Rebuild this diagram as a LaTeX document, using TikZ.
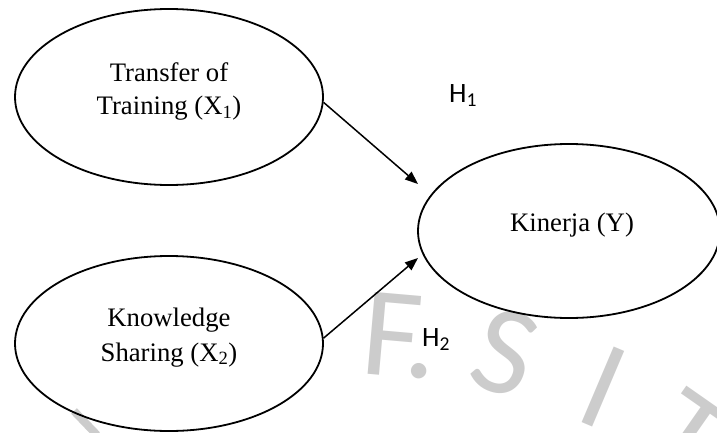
\documentclass[tikz,border=0pt]{standalone}
\usepackage{fontspec}
\setmainfont{Liberation Serif}
\newfontfamily\hypfont{Carlito}
\newfontfamily\markfont{Carlito}
\usetikzlibrary{shapes.geometric,arrows.meta}
\begin{document}
\begin{tikzpicture}[x=1pt,y=1pt,
  oval/.style={ellipse,draw,line width=1.8pt,inner sep=0pt},
  lbl/.style={font=\fontsize{26.7}{34}\selectfont,anchor=base,inner sep=0pt},
  hyp/.style={font=\hypfont\fontsize{28}{30}\selectfont,anchor=base west,inner sep=0pt},
  link/.style={line width=1.5pt,-{Triangle[length=13pt,width=10pt]}},
  wm/.style={font=\markfont\fontsize{128}{130}\selectfont,text=black!20,inner sep=0pt}]
\useasboundingbox (0,0) rectangle (717,432);

% faint watermark letters along an arc
\node[wm,rotate=-5]  (wmF)   at (392,97) {F};
\node[wm,rotate=-5]  (wmDot) at (419,61) {.};
\node[wm,rotate=-18] (wmS)   at (505,79) {S};
\node[wm,rotate=-23] (wmI)   at (603,45) {I};
\node[wm,rotate=-35] (wmT)   at (688,-5) {T};
\draw[black!20,line width=8pt] (74,21) -- (97,-3);

% constructs
\node[oval,minimum width=308,minimum height=176] (tr) at (169,335) {};
\node[oval,minimum width=308,minimum height=175] (ks) at (169,88.5) {};
\node[oval,minimum width=302,minimum height=174] (ki) at (569,201) {};

% construct names
\node[lbl] (tr1) at (169,350.3) {Transfer of};
\node[lbl] (tr2) at (169,317) {Training (X\textsubscript{1})};
\node[lbl] (ks1) at (169,105.3) {Knowledge};
\node[lbl] (ks2) at (169,71) {Sharing (X\textsubscript{2})};
\node[lbl] (ki1) at (572,200.3) {Kinerja (Y)};

% hypotheses
\node[hyp] (h1) at (449,329.3) {H\textsubscript{1}};
\node[hyp] (h2) at (422,85.3) {H\textsubscript{2}};

% paths
\coordinate (tip1) at (418,248);
\coordinate (tip2) at (418,174);
\draw[link] (tr.-2) -- (tip1);
\draw[link] (ks.2) -- (tip2);
\end{tikzpicture}
\end{document}
